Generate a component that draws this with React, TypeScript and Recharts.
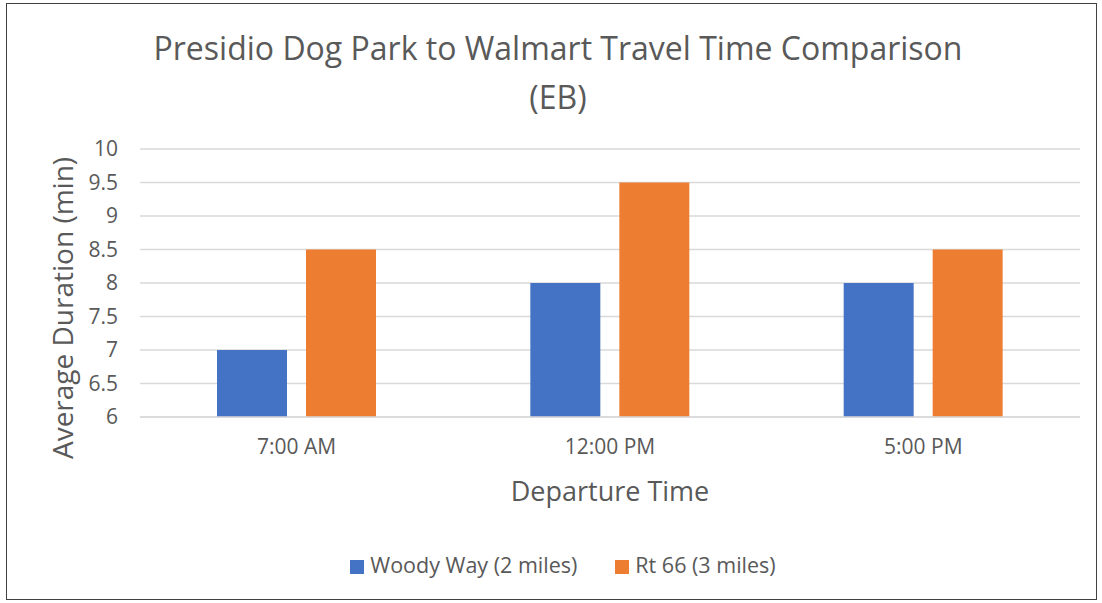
import { BarChart, Bar, XAxis, YAxis, CartesianGrid, Legend } from "recharts";

const departureTimes = ["7:00 AM", "12:00 PM", "5:00 PM"];
const woodyWay = [7, 8, 8];
const rt66 = [8.5, 9.5, 8.5];
const yTicks = [6, 6.5, 7, 7.5, 8, 8.5, 9, 9.5, 10];
const seriesNames = ["Woody Way (2 miles)", "Rt 66 (3 miles)"];

const chartData = departureTimes.map((time, i) => ({
  time,
  woody: woodyWay[i],
  rt66: rt66[i],
}));

const FONT = "'Open Sans', sans-serif";
const TEXT = "#595959";

const YLabel = () => (
  <text
    x={62}
    y={308}
    transform="rotate(-90 62 308)"
    textAnchor="middle"
    dominantBaseline="central"
    fill={TEXT}
    fontSize={28}
    fontFamily={FONT}
  >
    Average Duration (min)
  </text>
);

const XLabel = () => (
  <text
    x={610}
    y={490}
    textAnchor="middle"
    dominantBaseline="central"
    fill={TEXT}
    fontSize={27}
    fontFamily={FONT}
  >
    Departure Time
  </text>
);

export default function App() {
  return (
    <div
      style={{
        position: "absolute",
        left: 0,
        top: 0,
        width: 1102,
        height: 603,
        background: "#fff",
        fontFamily: FONT,
      }}
    >
      <div
        style={{
          position: "absolute",
          left: 6,
          top: 3,
          width: 1089,
          height: 595,
          border: "1.5px solid #404040",
        }}
      />
      <div
        style={{
          position: "absolute",
          left: 0,
          top: 23,
          width: 1116,
          textAlign: "center",
          color: TEXT,
          fontSize: 32,
          lineHeight: "49px",
        }}
      >
        Presidio Dog Park to Walmart Travel Time Comparison
        <br />
        (EB)
      </div>
      <div style={{ position: "absolute", left: 0, top: 0 }}>
        <BarChart
          width={1102}
          height={603}
          data={chartData}
          margin={{ top: 149, right: 22, bottom: 0, left: 0 }}
          barGap={19}
          barCategoryGap={77}
        >
          <CartesianGrid vertical={false} stroke="#d9d9d9" strokeWidth={1.5} />
          <XAxis
            dataKey="time"
            height={186}
            axisLine={{ stroke: "#d9d9d9", strokeWidth: 1.5 }}
            tickLine={false}
            tick={{ fill: TEXT, fontSize: 21, fontFamily: FONT }}
            tickMargin={16}
            label={<XLabel />}
          />
          <YAxis
            width={140}
            domain={[6, 10]}
            ticks={yTicks}
            axisLine={false}
            tickLine={false}
            tick={{ fill: TEXT, fontSize: 21, fontFamily: FONT }}
            tickMargin={16}
            label={<YLabel />}
          />
          <Legend
            verticalAlign="middle"
            align="center"
            iconType="square"
            iconSize={14}
            itemSorter={(item) => seriesNames.indexOf(String(item.value))}
            wrapperStyle={{ top: 550, left: 20, width: 1124, fontSize: 21.5, fontFamily: FONT }}
            formatter={(value) => (
              <span style={{ color: TEXT, marginLeft: 2, marginRight: 28 }}>{value}</span>
            )}
          />
          <Bar dataKey="woody" name={seriesNames[0]} fill="#4472C4" isAnimationActive={false} />
          <Bar dataKey="rt66" name={seriesNames[1]} fill="#ED7D31" isAnimationActive={false} />
        </BarChart>
      </div>
    </div>
  );
}
